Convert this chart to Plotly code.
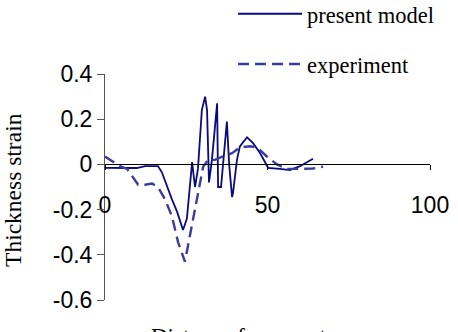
import plotly.graph_objects as go

# present model (solid)
model_x = [0, 9.8, 12.3, 16.3, 17.5, 19.1, 20.6, 22.2, 24.0, 25.2, 26.2, 26.8, 27.7, 28.6,
           29.8, 30.8, 31.4, 32.0, 32.9, 33.8, 34.5, 34.8, 35.7, 37.5, 38.2, 39.1, 39.4,
           40.6, 41.5, 43.7, 45.5, 47.7, 50.2, 53.8, 56.9, 60.0, 64.0]
model_y = [-0.015, -0.016, -0.008, -0.008, -0.035, -0.10, -0.155, -0.21, -0.29, -0.24, -0.066,
           0.01, -0.10, -0.02, 0.24, 0.30, 0.24, -0.08, 0.02, 0.17, 0.27, -0.10, -0.10, 0.19,
           0.0, -0.145, -0.125, 0.02, 0.08, 0.12, 0.095, 0.05, -0.015, -0.02, -0.025, -0.008, 0.025]

# experiment (dashed)
exp_x = [0, 4.6, 6.8, 8.3, 10.2, 12.3, 14.5, 16.3, 18.5, 20.6, 22.5, 24.6, 25.5, 27.1, 28.6,
         30.2, 31.7, 33.8, 36.3, 39.1, 41.5, 44.6, 46.8, 49.8, 52.9, 56.0, 60.0, 64.0, 67.1]
exp_y = [0.035, -0.008, -0.02, -0.05, -0.09, -0.09, -0.085, -0.10, -0.155, -0.23, -0.345,
         -0.43, -0.36, -0.245, -0.125, -0.01, 0.02, 0.02, 0.035, 0.05, 0.075, 0.08, 0.075,
         0.035, 0.0, -0.02, -0.02, -0.018, -0.01]

x_ticks = [0, 50, 100]
y_ticks = [-0.6, -0.4, -0.2, 0, 0.2, 0.4]
y_tick_text = ["-0.6", "-0.4", "-0.2", "0", "0.2", "0.4"]

serif = "Liberation Serif, Times New Roman, serif"
sans = "Liberation Sans, Arial, sans-serif"

fig = go.Figure()
fig.add_trace(go.Scatter(x=model_x, y=model_y, mode="lines", name="present model",
                         line=dict(color="#0a0a80", width=1.8), legendgroup="a"))
fig.add_trace(go.Scatter(x=exp_x, y=exp_y, mode="lines", name="experiment",
                         line=dict(color="#3c3c9c", width=2.4, dash="11px,6px"), legendgroup="b"))

fig.update_layout(
    width=458, height=332,
    margin=dict(l=105, r=28, t=74, b=32, autoexpand=False),
    paper_bgcolor="white", plot_bgcolor="white",
    showlegend=True,
    legend=dict(x=0.394, y=1.36, xanchor="left", yanchor="top",
                font=dict(family=serif, size=22.5, color="black"),
                itemwidth=64, tracegroupgap=18, bgcolor="rgba(0,0,0,0)"),
    xaxis=dict(range=[0, 100], tickvals=x_ticks, ticks="outside", ticklen=5,
               tickcolor="black", showline=True, linecolor="black", linewidth=1,
               showgrid=False, zeroline=False, anchor="free", position=0.6,
               tickfont=dict(family=sans, size=23, color="black"),
               ticklabelstandoff=15),
    yaxis=dict(range=[-0.6, 0.4], tickvals=y_ticks, ticktext=y_tick_text,
               ticks="outside", ticklen=7, tickcolor="#555", showline=True,
               linecolor="#555", linewidth=1, showgrid=False, zeroline=False,
               tickfont=dict(family=sans, size=23, color="black")),
    annotations=[
        dict(text="Thickness strain", xref="paper", yref="paper", x=-0.283, y=0.487,
             xanchor="center", yanchor="middle", textangle=-90, showarrow=False,
             font=dict(family=serif, size=23.5, color="black")),
        dict(text="Distance from center", xref="paper", yref="paper", x=0.437, y=-0.097,
             xanchor="center", yanchor="top", showarrow=False,
             font=dict(family=serif, size=23, color="black")),
    ],
)

fig.write_html("out.html")
